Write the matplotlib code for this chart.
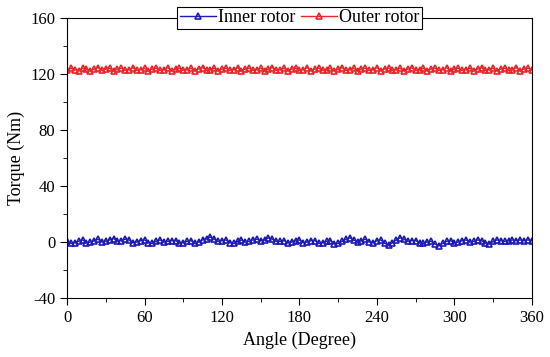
import numpy as np
import matplotlib
matplotlib.use("Agg")
import matplotlib.pyplot as plt
from matplotlib.ticker import MultipleLocator

plt.rcParams['font.family'] = ['Liberation Serif', 'DejaVu Serif']
plt.rcParams['font.size'] = 12
plt.rcParams['axes.unicode_minus'] = False

# angle step of 3 degrees, 0..360
angle = np.arange(0, 361, 3)

inner = [
    0.5, -1.0, -0.5, 0.5, 1.5, -0.5, 0.0, 1.0, 2.0, 0.0, 0.5, 1.5,
    2.5, 1.0, 1.0, 2.0, 1.5, -0.5, 0.0, 1.0, 1.5, -0.5, -1.0, 0.5,
    1.5, 0.0, 0.5, 1.0, 1.0, -0.5, -0.5, 0.5, 1.0, -1.0, 0.0, 1.5,
    2.5, 3.5, 2.0, 0.5, 1.0, 1.5, -0.5, -1.0, 0.5, 1.5, 0.0, 0.5,
    1.5, 2.0, 1.0, 1.5, 3.0, 2.0, 0.5, 0.5, 1.0, -0.5, 0.0, 1.0,
    1.5, -0.5, 0.0, 1.0, 1.0, -1.0, -0.5, 0.5, 1.0, -1.5, -1.0, 0.5,
    2.0, 3.0, 1.5, 0.0, 1.0, 2.0, 0.0, -0.5, 1.0, 1.5, -1.0, -2.0,
    -0.5, 1.5, 3.0, 2.0, 0.5, 1.0, 1.0, -0.5, -1.0, 0.0, 0.5, -1.5,
    -2.5, -1.0, 0.5, 1.0, -0.5, 0.0, 1.0, 1.5, 0.0, 0.5, 1.5, 1.0,
    -0.5, -1.5, 0.5, 1.5, 1.0, 0.5, 1.0, 1.5, 1.0, 1.5, 1.0, 1.5,
    1.0,
]

outer = [
    122.5, 124.0, 123.0, 122.0, 124.0, 123.5, 122.0, 123.5, 124.5, 122.5, 123.5, 124.0,
    122.0, 123.5, 124.0, 122.5, 123.0, 124.5, 122.5, 123.0, 124.0, 122.0, 123.5, 124.0,
    122.5, 123.0, 124.5, 122.0, 123.5, 124.0, 122.5, 123.0, 124.0, 122.0, 123.5, 124.5,
    122.5, 123.0, 124.0, 122.0, 123.5, 124.0, 122.5, 123.0, 124.5, 122.0, 123.5, 124.0,
    122.5, 123.0, 124.0, 122.0, 123.5, 124.5, 122.5, 123.0, 124.0, 122.0, 123.5, 124.0,
    122.5, 123.0, 124.5, 122.0, 123.5, 124.0, 122.5, 123.0, 124.0, 122.0, 123.5, 124.5,
    122.5, 123.0, 124.0, 122.0, 123.5, 124.0, 122.5, 123.0, 124.5, 122.0, 123.5, 124.0,
    122.5, 123.0, 124.0, 122.0, 123.5, 124.5, 122.5, 123.0, 124.0, 122.0, 123.5, 124.0,
    122.5, 123.0, 124.5, 122.0, 123.5, 124.0, 122.5, 123.0, 124.0, 122.0, 123.5, 124.5,
    122.5, 123.0, 124.0, 122.0, 123.5, 124.0, 122.5, 123.0, 124.5, 122.0, 123.5, 124.0,
    123.0,
]

fig = plt.figure(figsize=(5.5, 3.57), dpi=100)
ax = fig.add_axes([0.122, 0.165, 0.845, 0.785])

ax.plot(angle, inner, color='#1c1cb4', marker='^', markersize=5, mfc='none',
        mew=1.2, lw=1.0, label='Inner rotor')
ax.plot(angle, outer, color='#e8262a', marker='^', markersize=5, mfc='none',
        mew=1.2, lw=1.0, label='Outer rotor')

ax.set_xlim(0, 360)
ax.set_ylim(-40, 160)
ax.xaxis.set_major_locator(MultipleLocator(60))
ax.xaxis.set_minor_locator(MultipleLocator(30))
ax.yaxis.set_major_locator(MultipleLocator(40))
ax.yaxis.set_minor_locator(MultipleLocator(20))
ax.tick_params(which='both', direction='out', top=False, right=False)
ax.tick_params(which='major', length=5)
ax.tick_params(which='minor', length=3)
ax.set_xlabel('Angle (Degree)', fontsize=13)
ax.set_ylabel('Torque (Nm)', fontsize=13)

leg = ax.legend(loc='center', bbox_to_anchor=(0.5, 1.0), ncol=2, frameon=True,
                fancybox=False, edgecolor='black', framealpha=1, fontsize=13,
                handlelength=2.0, handletextpad=0.1, columnspacing=0.3,
                borderpad=0.15, borderaxespad=0, markerscale=0.8)
leg.get_frame().set_linewidth(0.8)

fig.savefig('out.png', dpi=100)
